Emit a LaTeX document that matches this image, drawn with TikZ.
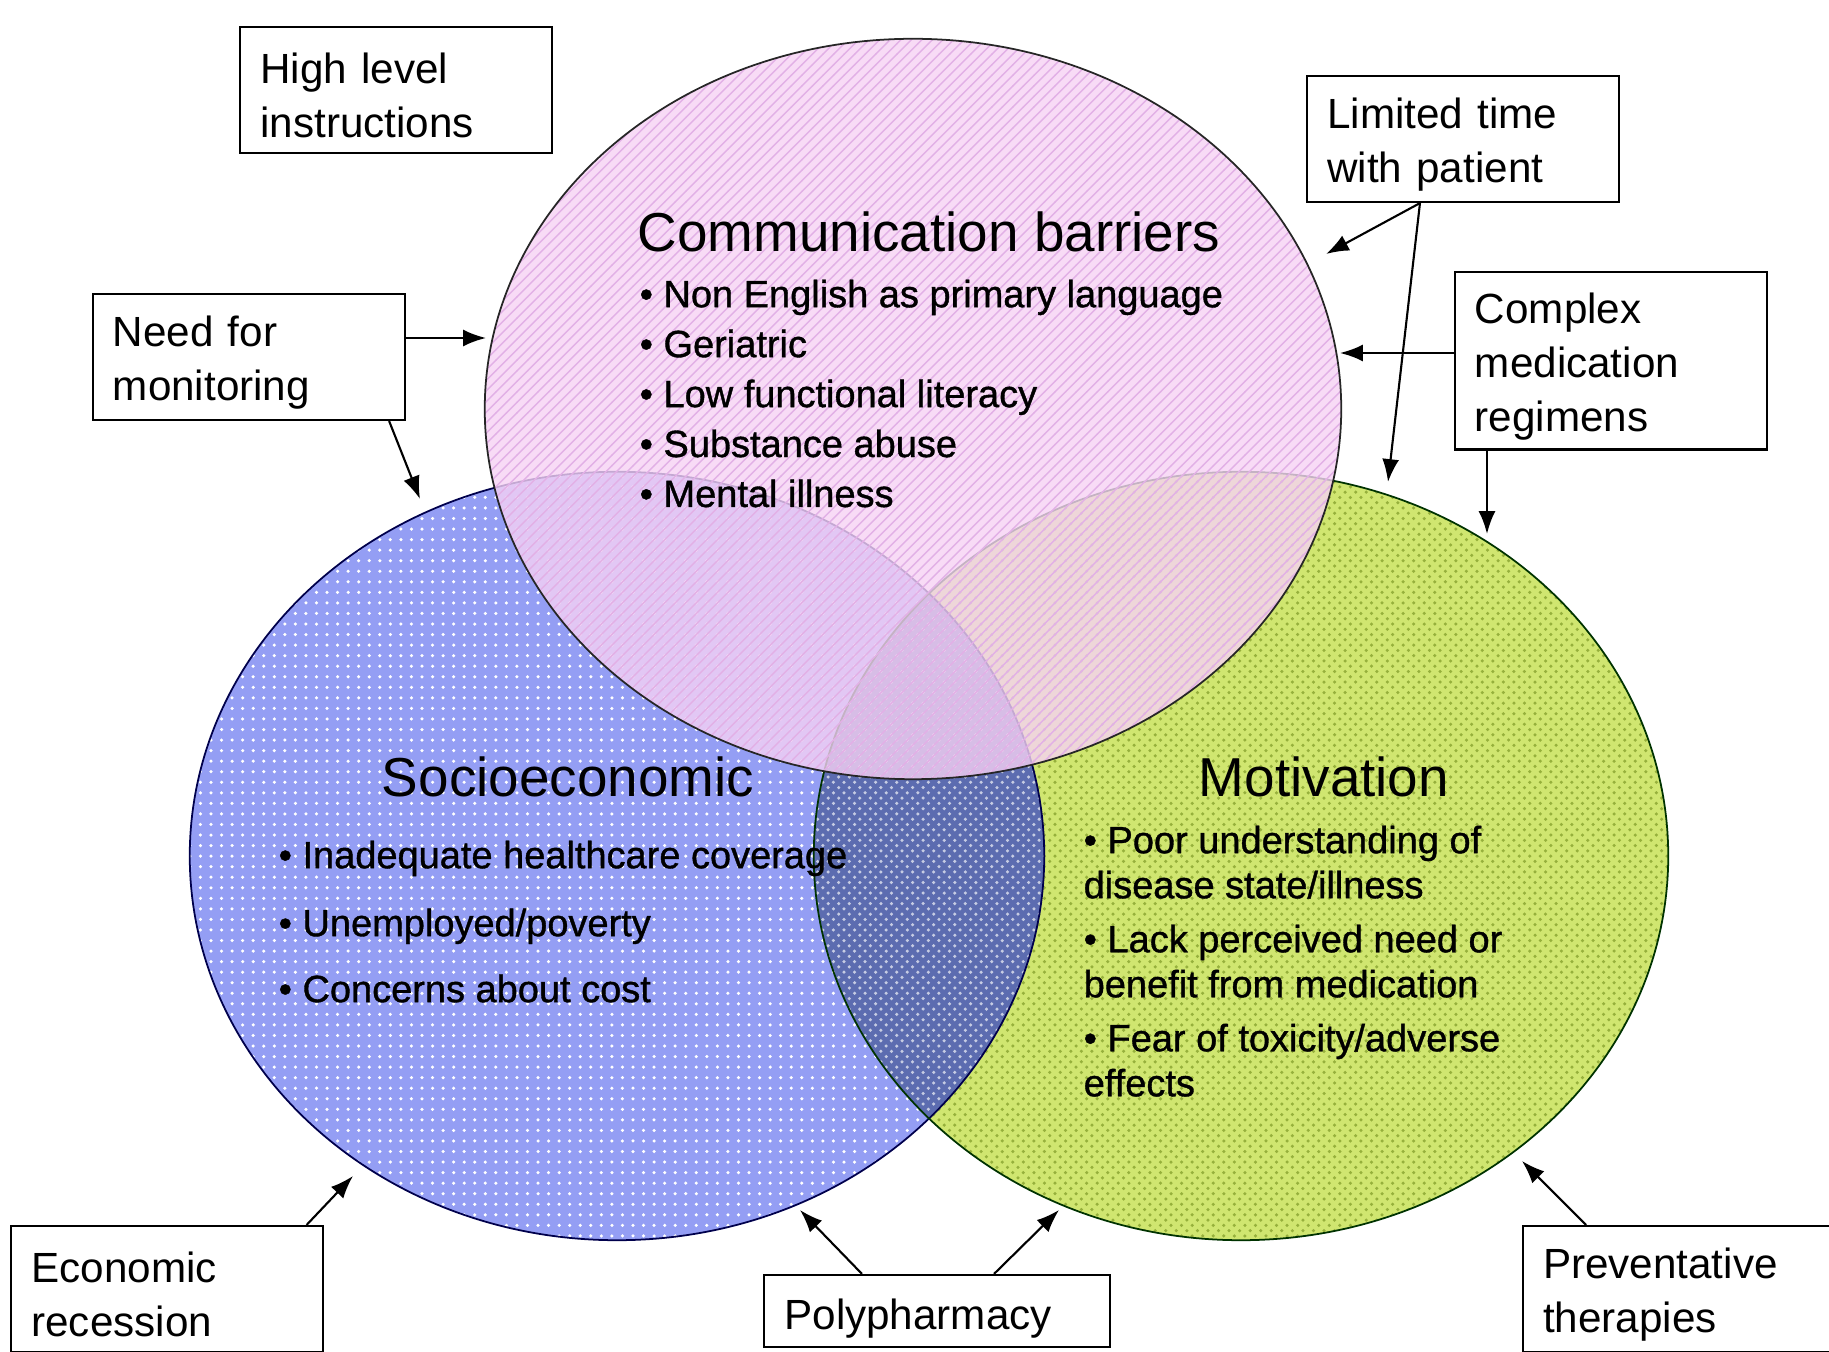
\documentclass[tikz,border=0pt]{standalone}
\usepackage{fontspec}
\setmainfont{Liberation Sans}
\newfontface\pointface[FakeBold=1.0]{Liberation Sans}
\usetikzlibrary{arrows.meta, patterns}
\definecolor{commpink}{RGB}{246,210,244}
\definecolor{commline}{RGB}{226,176,230}
\definecolor{socioblue}{RGB}{148,158,244}
\definecolor{motivgreen}{RGB}{208,230,112}
\definecolor{motivdot}{RGB}{150,176,60}
\definecolor{overlapslate}{RGB}{92,108,176}
\tikzset{
  factor/.style={
    draw,
    line width=0.6pt,
    fill=white,
    align=left,
    inner xsep=0.2cm,
    inner ysep=1pt,
    text height=12pt,
    font=\fontsize{12}{15.4}\selectfont},
  push/.style={
    line width=0.6pt,
    -{Latex[length=6.5pt,width=4.8pt]}},
  heading/.style={
    anchor=base,
    font=\fontsize{15.6}{18}\selectfont},
  points/.style={
    anchor=north west,
    align=left,
    inner sep=0pt}
}

\begin{document}
\begin{tikzpicture}[x=0.01cm, y=-0.01cm]
  \useasboundingbox (0,0) rectangle (1829,1352);

  \coordinate (commc) at (913,409);
  \coordinate (socioc) at (617,856);
  \coordinate (motivc) at (1241,856);

  % lower circles
  \fill[socioblue] (socioc) ellipse [x radius=4.27cm, y radius=3.84cm];
  \path[pattern=dots, pattern color=white] (socioc) ellipse [x radius=4.27cm, y radius=3.84cm];
  \fill[motivgreen] (motivc) ellipse [x radius=4.27cm, y radius=3.84cm];
  \path[pattern=crosshatch dots, pattern color=motivdot] (motivc) ellipse [x radius=4.27cm, y radius=3.84cm];
  \begin{scope}
    \clip (socioc) ellipse [x radius=4.27cm, y radius=3.84cm];
    \fill[overlapslate] (motivc) ellipse [x radius=4.27cm, y radius=3.84cm];
    \path[pattern=crosshatch dots, pattern color=white!65!overlapslate] (motivc) ellipse [x radius=4.27cm, y radius=3.84cm];
  \end{scope}
  \draw[line width=0.5pt, blue!30!black] (socioc) ellipse [x radius=4.27cm, y radius=3.84cm];
  \draw[line width=0.5pt, green!20!black] (motivc) ellipse [x radius=4.27cm, y radius=3.84cm];

  % top circle
  \fill[commpink, fill opacity=0.8] (commc) ellipse [x radius=4.28cm, y radius=3.70cm];
  \path[pattern=north east lines, pattern color=commline] (commc) ellipse [x radius=4.28cm, y radius=3.70cm];
  \draw[line width=0.5pt, black!85] (commc) ellipse [x radius=4.28cm, y radius=3.70cm];

  % circle texts
  \node[heading] (commhead) at (929,252) {Communication barriers};
  \node[points, font=\pointface\fontsize{10.8}{14.2}\selectfont] (commlist) at (639,279)
    {• Non English as primary language\\• Geriatric\\• Low functional literacy\\• Substance abuse\\• Mental illness};

  \node[heading] (sociohead) at (568,797) {Socioeconomic};
  \node[points, font=\pointface\fontsize{10.8}{14.2}\selectfont] (sociolist) at (278,840)
    {• Inadequate healthcare coverage\\[0.18cm]• Unemployed/poverty\\[0.16cm]• Concerns about cost};

  \node[heading] (motivhead) at (1324,797) {Motivation};
  \node[points, font=\pointface\fontsize{10.8}{12.8}\selectfont] (motivlist) at (1083,825)
    {• Poor understanding of\\disease state/illness\\[0.09cm]• Lack perceived need or\\benefit from medication\\[0.09cm]• Fear of toxicity/adverse\\effects};

  % factor boxes
  \node[factor, text width=2.71cm, minimum height=1.26cm] (instr) at (396,90) {High level\\instructions};
  \node[factor, text width=2.72cm, minimum height=1.26cm] (monitor) at (249,357) {Need for\\monitoring};
  \node[factor, text width=2.71cm, minimum height=1.26cm] (limtime) at (1463,139) {Limited time\\with patient};
  \node[factor, text width=2.72cm, minimum height=1.77cm] (complexmed) at (1611,361) {Complex\\medication\\regimens};
  \node[factor, text width=2.71cm, minimum height=1.26cm] (recession) at (167,1289) {Economic\\recession};
  \node[factor, text width=3.05cm, minimum height=0.72cm, text height=13.2pt] (polyph) at (937,1311) {Polypharmacy};
  \node[factor, text width=2.8cm, minimum height=1.26cm, anchor=north west] (prevent) at (1522,1225) {Preventative\\therapies};

  % arrow tips on the circles
  \coordinate (tipmonA) at (486,338);
  \coordinate (tipmonB) at (420,499);
  \coordinate (tiplimA) at (1326,254);
  \coordinate (tiplimB) at (1388,482);
  \coordinate (tipcmpA) at (1340,353);
  \coordinate (tipcmpB) at (1487,534);
  \coordinate (tiprec) at (353,1176);
  \coordinate (tippolA) at (800,1210);
  \coordinate (tippolB) at (1059,1210);
  \coordinate (tipprev) at (1522,1161);

  \draw[push] (monitor.east |- tipmonA) -- (tipmonA);
  \draw[push] ([xshift=-0.17cm]monitor.south east) -- (tipmonB);
  \draw[push] ([xshift=-0.43cm]limtime.south) -- (tiplimA);
  \draw[push] ([xshift=-0.43cm]limtime.south) -- (tiplimB);
  \draw[push] (complexmed.west |- tipcmpA) -- (tipcmpA);
  \draw[push] (complexmed.south -| tipcmpB) -- (tipcmpB);
  \draw[push] ([xshift=-0.17cm]recession.north east) -- (tiprec);
  \draw[push] ([xshift=-0.75cm]polyph.north) -- (tippolA);
  \draw[push] ([xshift=0.57cm]polyph.north) -- (tippolB);
  \draw[push] ([xshift=0.64cm]prevent.north west) -- (tipprev);
\end{tikzpicture}
\end{document}
